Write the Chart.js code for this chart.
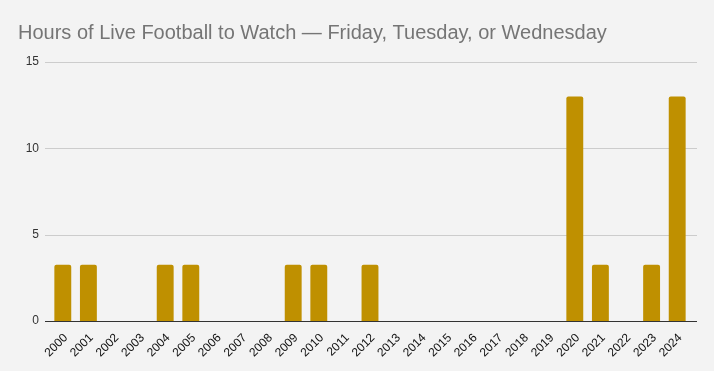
<!DOCTYPE html>
<html>
<head>
<meta charset="utf-8">
<script src="https://cdn.jsdelivr.net/npm/chart.js@4"></script>
<style>
html,body{margin:0;padding:0;background:#f3f3f3;}
#wrap{width:714px;height:371px;position:relative;}
</style>
</head>
<body>
<div id="wrap"><canvas id="c" width="714" height="371"></canvas></div>
<script>
const years = ["2000","2001","2002","2003","2004","2005","2006","2007","2008","2009","2010","2011","2012","2013","2014","2015","2016","2017","2018","2019","2020","2021","2022","2023","2024"];
const hours = [3.25,3.25,0,0,3.25,3.25,0,0,0,3.25,3.25,0,3.25,0,0,0,0,0,0,0,13,3.25,0,3.25,13];
const yTicks = [0,5,10,15];
const titleText = "Hours of Live Football to Watch \u2014 Friday, Tuesday, or Wednesday";

const bgPlugin = {
  id: 'bg',
  beforeDraw(chart){
    const ctx = chart.ctx;
    ctx.save();
    ctx.fillStyle = '#f3f3f3';
    ctx.fillRect(0,0,chart.width,chart.height);
    ctx.restore();
  }
};
function drawLine(chart, v, color){
  const ctx = chart.ctx, a = chart.chartArea, ys = chart.scales.y;
  const py = Math.round(ys.getPixelForValue(v)) + 0.5;
  ctx.strokeStyle = color;
  ctx.lineWidth = 1;
  ctx.beginPath();
  ctx.moveTo(a.left - 5, py);
  ctx.lineTo(a.right + 7, py);
  ctx.stroke();
}
const gridPlugin = {
  id: 'extgrid',
  beforeDatasetsDraw(chart){
    chart.ctx.save();
    yTicks.forEach(v => { if (v !== 0) drawLine(chart, v, '#cccccc'); });
    chart.ctx.restore();
  },
  afterDatasetsDraw(chart){
    chart.ctx.save();
    drawLine(chart, 0, '#333333');
    chart.ctx.restore();
  }
};

new Chart(document.getElementById('c'), {
  type: 'bar',
  data: {
    labels: years,
    datasets: [{
      data: hours,
      backgroundColor: '#bf9000',
      borderRadius: {topLeft: 2, topRight: 2, bottomLeft: 0, bottomRight: 0},
      borderSkipped: 'bottom',
      barPercentage: 0.66,
      categoryPercentage: 1.0
    }]
  },
  options: {
    responsive: false,
    animation: false,
    devicePixelRatio: 1,
    layout: { padding: { left: 18, right: 24, top: 0, bottom: 9 } },
    plugins: {
      legend: { display: false },
      tooltip: { enabled: false },
      title: {
        display: true,
        text: titleText,
        align: 'start',
        color: '#757575',
        font: { family: 'Liberation Sans, Arial, sans-serif', size: 20, weight: 'normal' },
        padding: { top: 21, bottom: 17 }
      }
    },
    scales: {
      x: {
        grid: { display: false },
        border: { display: false },
        ticks: {
          color: '#111111',
          font: { family: 'Liberation Sans, Arial, sans-serif', size: 12 },
          maxRotation: 45, minRotation: 45,
          autoSkip: false,
          padding: 2,
          labelOffset: 3
        }
      },
      y: {
        min: 0, max: 15,
        grid: { display: false, drawTicks: false },
        border: { display: false },
        afterBuildTicks(scale){ scale.ticks = yTicks.map(v => ({value: v})); },
        afterFit(scale){ scale.width = 32; },
        ticks: {
          color: '#333333',
          font: { family: 'Liberation Sans, Arial, sans-serif', size: 12 },
          padding: 11
        }
      }
    }
  },
  plugins: [bgPlugin, gridPlugin]
});
</script>
</body>
</html>
